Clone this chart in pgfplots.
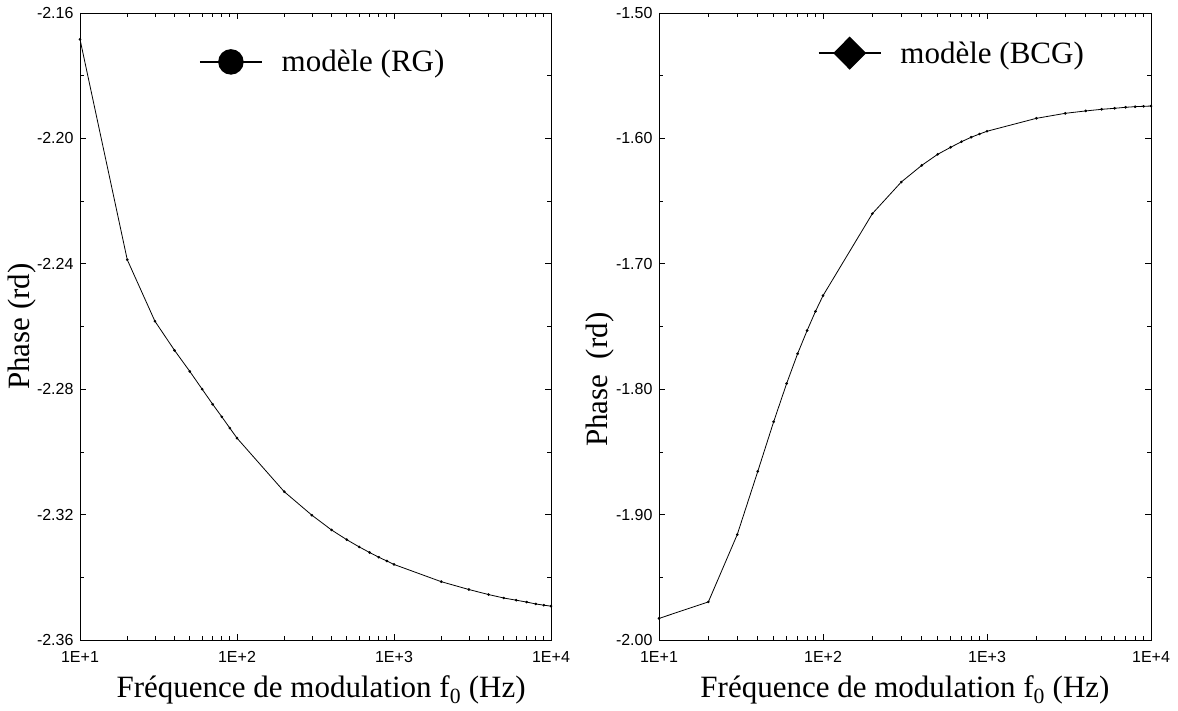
\documentclass[border=0pt]{standalone}
\usepackage{fontspec}
\setmainfont{Liberation Serif}
\newfontfamily\arial{Liberation Sans}
\usepackage{pgfplots}
\pgfplotsset{compat=1.18}
\pgfplotsset{
  myax/.style={
    scale only axis,
    height=627pt,
    xmin=10, xmax=10000,
    xtick={10,100,1000,10000},
    xticklabels={1E+1,1E+2,1E+3,1E+4},
    tick align=inside,
    major tick length=6.5pt,
    minor tick length=4pt,
    axis line style={line width=0.9pt},
    every tick/.style={black, line width=0.7pt},
    tick label style={font=\arial\fontsize{16}{16}\selectfont},
    xticklabel style={yshift=-8pt},
    yticklabel style={xshift=-3pt},
    xlabel={Fréquence de modulation f\textsubscript{0} (Hz)},
    legend cell align=left,
    legend style={draw=none, fill=none, inner sep=0pt, outer sep=0pt,
      nodes={inner sep=0pt}, font=\fontsize{31}{31}\selectfont,
      /tikz/every odd column/.append style={column sep=19pt}},
    legend image code/.code={\draw[mark repeat=2,mark phase=2,##1] plot coordinates {(0pt,0pt) (31pt,0pt) (62pt,0pt)};},
  }
}

\begin{document}
\begin{tikzpicture}
\path[use as bounding box] (0pt,0pt) rectangle (1178pt,710pt);

\begin{axis}[xmode=log, myax,
  at={(80pt,70pt)}, anchor=south west,
  width=471pt,
  ymin=-2.36, ymax=-2.16,
  ytick={-2.36,-2.32,-2.28,-2.24,-2.20,-2.16},
  yticklabels={-2.36,-2.32,-2.28,-2.24,-2.20,-2.16},
  minor ytick={-2.34,-2.30,-2.26,-2.22,-2.18},
  ylabel={Phase (rd)},
  every axis y label/.style={at={(axis description cs:-0.123,0.5)}, rotate=90, anchor=center, font=\fontsize{31}{31}\selectfont},
  every axis x label/.style={at={(axis description cs:0.512,-0.08)}, anchor=center, font=\fontsize{31}{31}\selectfont},
  legend style={at={(axis description cs:0.253,0.922)}, anchor=west},
]
\addlegendimage{black, line width=1.5pt, mark=*, mark size=12pt, mark options={fill=black}}
\addlegendentry{modèle (RG)}
\addplot[black, line width=0.8pt, mark=*, mark size=0.9pt, forget plot] coordinates {
(10,-2.1684) (20,-2.2387) (30,-2.2583) (40,-2.2676) (50,-2.2743) (60,-2.2800)
(70,-2.2848) (80,-2.2888) (90,-2.2924) (100,-2.2956)
(200,-2.3127) (300,-2.3202) (400,-2.3249) (500,-2.3280) (600,-2.3303)
(700,-2.3321) (800,-2.3336) (900,-2.3348) (1000,-2.3359)
(2000,-2.3414) (3000,-2.3439) (4000,-2.3455) (5000,-2.3466) (6000,-2.3473)
(7000,-2.3479) (8000,-2.3485) (9000,-2.3489) (10000,-2.3492)
};
\end{axis}

\begin{axis}[xmode=log, myax,
  at={(659pt,70pt)}, anchor=south west,
  width=492pt,
  ymin=-2.0, ymax=-1.5,
  ytick={-2.0,-1.9,-1.8,-1.7,-1.6,-1.5},
  yticklabels={-2.00,-1.90,-1.80,-1.70,-1.60,-1.50},
  minor ytick={-1.95,-1.85,-1.75,-1.65,-1.55},
  ylabel={Phase\ \ (rd)},
  every axis y label/.style={at={(axis description cs:-0.12,0.415)}, rotate=90, anchor=center, font=\fontsize{31}{31}\selectfont},
  every axis x label/.style={at={(axis description cs:0.5,-0.08)}, anchor=center, font=\fontsize{31}{31}\selectfont},
  legend style={at={(axis description cs:0.323,0.936)}, anchor=west},
]
\addlegendimage{black, line width=1.5pt, mark=diamond*, mark size=15.5pt, mark options={fill=black, xscale=1.33}}
\addlegendentry{modèle (BCG)}
\addplot[black, line width=0.8pt, mark=*, mark size=0.9pt, forget plot] coordinates {
(10,-1.9828) (20,-1.9696) (30,-1.9159) (40,-1.8656) (50,-1.8260) (60,-1.7955)
(70,-1.7717) (80,-1.7532) (90,-1.7379) (100,-1.7254)
(200,-1.6600) (300,-1.6348) (400,-1.6215) (500,-1.6127) (600,-1.6071)
(700,-1.6026) (800,-1.5991) (900,-1.5965) (1000,-1.5943)
(2000,-1.5840) (3000,-1.5800) (4000,-1.5781) (5000,-1.5768) (6000,-1.5760)
(7000,-1.5752) (8000,-1.5747) (9000,-1.5744) (10000,-1.5742)
};
\end{axis}
\end{tikzpicture}
\end{document}
